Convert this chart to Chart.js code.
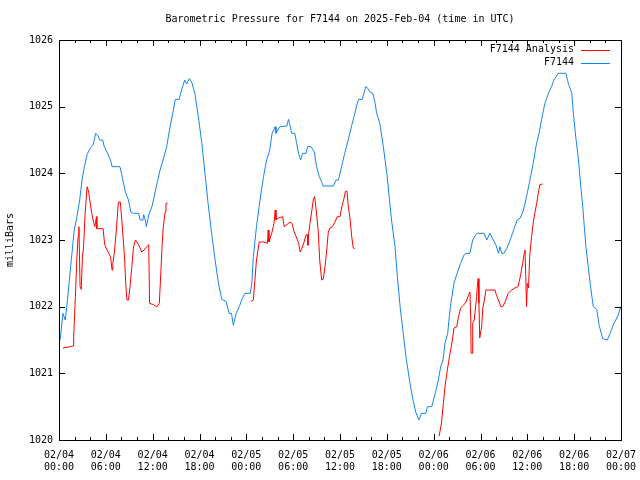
<!DOCTYPE html>
<html>
<head>
<meta charset="utf-8">
<script src="https://cdn.jsdelivr.net/npm/chart.js@4"></script>
<style>
  html, body { margin: 0; padding: 0; background: #fff; }
  #wrap { width: 640px; height: 480px; }
</style>
</head>
<body>
<div id="wrap"><canvas id="myChart"></canvas></div>
<script>
// hours since 02/04 00:00 UTC
var blueHours = [0.15,0.5,0.8,1.0,1.45,1.7,1.95,2.3,2.65,2.95,3.25,3.6,4.0,4.35,4.7,5.0,5.2,5.6,5.8,6.15,6.6,6.8,7.8,8.1,8.5,8.9,9.2,9.5,10.2,10.4,10.75,10.85,11.05,11.2,11.5,11.9,12.2,12.55,12.95,13.4,13.8,14.2,14.65,14.9,15.4,15.7,16.1,16.35,16.7,17.0,17.4,17.85,18.3,18.7,19.1,19.55,20.0,20.4,20.85,21.4,21.8,22.1,22.33,22.7,23.1,23.4,23.8,24.5,24.7,24.9,25.3,25.75,26.2,26.6,27.0,27.3,27.7,27.8,28.3,29.2,29.4,29.6,29.8,30.2,30.45,30.65,30.95,31.2,31.65,31.85,32.3,32.7,33.0,33.35,33.65,33.85,35.15,35.5,35.8,36.2,36.6,37.05,37.5,37.9,38.2,38.4,38.85,39.3,39.6,39.85,40.2,40.5,40.7,41.1,41.55,42.0,42.3,42.6,43.05,43.35,43.7,44.1,44.45,44.9,45.3,45.7,46.1,46.45,47.0,47.2,47.75,48.2,48.6,48.9,49.2,49.45,49.8,50.0,50.2,50.6,51.0,51.45,51.9,52.15,52.65,53.0,53.4,53.6,54.45,54.8,55.2,55.65,56.0,56.3,56.5,56.7,57.0,57.35,57.8,58.1,58.4,58.7,59.1,59.5,59.9,60.3,60.75,61.1,61.5,61.95,62.25,62.7,63.1,63.4,63.95,64.95,65.25,65.7,65.9,66.2,66.55,66.85,67.1,67.3,67.5,67.8,68.1,68.45,68.9,69.2,69.65,70.25,70.6,71.1,71.55,72.0];
var bluePressure = [1021.5,1021.9,1021.8,1022.0,1022.55,1022.85,1023.15,1023.35,1023.6,1023.9,1024.1,1024.28,1024.38,1024.42,1024.6,1024.56,1024.5,1024.5,1024.4,1024.32,1024.2,1024.1,1024.1,1023.95,1023.72,1023.6,1023.42,1023.4,1023.4,1023.3,1023.3,1023.38,1023.3,1023.2,1023.38,1023.5,1023.65,1023.85,1024.05,1024.23,1024.4,1024.68,1024.95,1025.11,1025.11,1025.25,1025.4,1025.34,1025.42,1025.37,1025.2,1024.85,1024.45,1024.0,1023.55,1023.1,1022.7,1022.37,1022.11,1022.08,1021.9,1021.9,1021.72,1021.9,1022.0,1022.1,1022.2,1022.2,1022.35,1022.75,1023.2,1023.6,1023.95,1024.2,1024.35,1024.6,1024.7,1024.6,1024.7,1024.71,1024.81,1024.72,1024.6,1024.6,1024.45,1024.32,1024.2,1024.3,1024.3,1024.4,1024.4,1024.32,1024.1,1023.95,1023.87,1023.81,1023.81,1023.9,1023.9,1024.1,1024.3,1024.5,1024.72,1024.9,1025.05,1025.11,1025.11,1025.3,1025.27,1025.22,1025.2,1025.05,1024.9,1024.75,1024.4,1024.0,1023.65,1023.3,1022.9,1022.45,1022.0,1021.6,1021.25,1020.9,1020.63,1020.42,1020.3,1020.4,1020.4,1020.5,1020.5,1020.7,1020.9,1021.1,1021.2,1021.45,1021.6,1021.85,1022.05,1022.35,1022.5,1022.65,1022.78,1022.8,1022.8,1023.0,1023.08,1023.1,1023.1,1023.0,1023.1,1023.0,1022.92,1022.8,1022.9,1022.8,1022.8,1022.87,1023.0,1023.1,1023.2,1023.3,1023.33,1023.45,1023.65,1023.88,1024.15,1024.4,1024.6,1024.88,1025.05,1025.2,1025.3,1025.4,1025.5,1025.5,1025.35,1025.2,1024.9,1024.55,1024.2,1023.8,1023.5,1023.2,1022.9,1022.6,1022.3,1022.0,1021.96,1021.72,1021.52,1021.5,1021.6,1021.75,1021.85,1022.0];

// analysis has gaps (null breaks the line)
var redHours = [0.5,1.45,1.8,1.88,2.1,2.3,2.45,2.55,2.7,2.85,3.0,3.15,3.35,3.6,3.8,4.0,4.2,4.45,4.6,4.8,4.85,5.65,5.85,6.15,6.6,6.8,6.9,7.1,7.35,7.6,7.85,8.05,8.4,8.55,8.7,8.9,9.1,9.35,9.55,9.8,10.2,10.6,10.9,11.25,11.5,11.6,12.1,12.55,12.85,13.0,13.2,13.35,13.6,13.7,13.9,
  19.0,
  24.6,24.9,25.1,25.3,25.65,26.2,26.7,26.8,26.9,27.25,27.55,27.7,27.8,28.1,28.65,28.85,29.2,29.6,29.85,30.1,30.45,30.7,30.9,31.1,31.4,31.65,31.8,31.9,31.95,32.15,32.4,32.6,32.75,32.9,33.2,33.4,33.65,33.85,34.08,34.3,34.5,34.7,35.05,35.35,35.65,36.0,36.2,36.5,36.7,36.9,37.05,37.3,37.5,37.7,37.9,
  43.0,
  48.7,49.0,49.2,49.45,49.75,50.1,50.4,50.6,50.95,51.15,51.45,51.8,52.15,52.45,52.65,52.75,52.8,52.95,53.0,53.2,53.5,53.6,53.7,53.8,53.9,54.15,54.3,54.5,54.7,55.85,56.05,56.3,56.6,56.85,57.15,57.55,58.0,58.4,58.8,59.1,59.4,59.6,59.7,59.8,59.9,60.0,60.15,60.3,60.5,60.75,60.95,61.2,61.4,61.6,61.95];
var redPressure = [1021.38,1021.4,1021.41,1021.55,1022.15,1022.75,1023.05,1023.2,1022.3,1022.26,1022.75,1022.9,1023.4,1023.8,1023.72,1023.55,1023.4,1023.25,1023.2,1023.35,1023.17,1023.17,1022.93,1022.85,1022.75,1022.55,1022.65,1022.82,1023.15,1023.57,1023.57,1023.3,1022.73,1022.35,1022.1,1022.1,1022.3,1022.62,1022.9,1023.0,1022.93,1022.82,1022.85,1022.9,1022.93,1022.05,1022.03,1022.0,1022.05,1022.4,1022.9,1023.18,1023.42,1023.55,1023.55,
  null,
  1022.08,1022.1,1022.4,1022.7,1022.97,1022.97,1022.95,1023.15,1022.97,1023.1,1023.25,1023.45,1023.3,1023.33,1023.35,1023.2,1023.23,1023.27,1023.25,1023.13,1023.03,1022.95,1022.82,1022.87,1022.97,1023.08,1023.08,1022.92,1023.05,1023.25,1023.45,1023.62,1023.65,1023.5,1023.15,1022.7,1022.4,1022.41,1022.6,1022.85,1023.12,1023.18,1023.2,1023.27,1023.35,1023.35,1023.48,1023.62,1023.73,1023.73,1023.52,1023.3,1023.05,1022.88,1022.87,
  null,
  1020.06,1020.25,1020.5,1020.8,1021.05,1021.3,1021.5,1021.68,1021.7,1021.83,1021.98,1022.02,1022.07,1022.17,1022.22,1021.8,1021.3,1021.3,1021.75,1021.8,1022.15,1022.32,1022.42,1022.05,1021.53,1021.7,1021.98,1022.1,1022.25,1022.25,1022.17,1022.1,1022.0,1022.0,1022.07,1022.2,1022.25,1022.28,1022.3,1022.45,1022.65,1022.8,1022.85,1022.45,1022.0,1022.35,1022.28,1022.75,1023.0,1023.25,1023.4,1023.55,1023.7,1023.83,1023.84];

var seriesNames = ["F7144 Analysis", "F7144"];
var chartTitle = "Barometric Pressure for F7144 on 2025-Feb-04 (time in UTC)";

var FONT = "'DejaVu Sans Mono', monospace";

function pts(xs, ys) {
    return xs.map(function (x, i) { return { x: x, y: ys[i] }; });
}

function pad2(n) { return (n < 10 ? "0" : "") + n; }

// frame, inward tics on all four sides, title and legend like gnuplot
var gnuplotLook = {
    id: "gnuplotLook",
    afterDraw: function (chart) {
        var c = chart.ctx, a = chart.chartArea;
        var xs = chart.scales.x, ys = chart.scales.y;
        c.save();
        c.strokeStyle = "#000";
        c.lineWidth = 1;
        c.strokeRect(Math.round(a.left) + 0.5, Math.round(a.top) + 0.5,
                     Math.round(a.right - a.left), Math.round(a.bottom - a.top));
        c.beginPath();
        xs.ticks.forEach(function (t) {
            var px = Math.round(xs.getPixelForValue(t.value)) + 0.5;
            var len = (t.value % 6 === 0) ? 6 : 3;
            c.moveTo(px, a.bottom); c.lineTo(px, a.bottom - len);
            c.moveTo(px, a.top); c.lineTo(px, a.top + len);
        });
        ys.ticks.forEach(function (t) {
            var py = Math.round(ys.getPixelForValue(t.value)) + 0.5;
            c.moveTo(a.left, py); c.lineTo(a.left + 6, py);
            c.moveTo(a.right, py); c.lineTo(a.right - 6, py);
        });
        c.stroke();

        c.fillStyle = "#000";
        c.font = "10px " + FONT;
        c.textAlign = "center";
        c.textBaseline = "middle";
        c.fillText(chartTitle, (a.left + a.right) / 2, 19);

        c.textAlign = "right";
        chart.data.datasets.forEach(function (ds, i) {
            var y = 49.5 + i * 13;
            c.fillStyle = "#000";
            c.fillText(ds.label, 574, y);
            c.strokeStyle = ds.borderColor;
            c.beginPath();
            c.moveTo(581, Math.round(y) + 0.5);
            c.lineTo(610, Math.round(y) + 0.5);
            c.stroke();
        });
        c.restore();
    }
};

var ctx = document.getElementById("myChart");
var myChart = new Chart(ctx, {
    type: "line",
    data: {
        datasets: [
            {
                label: seriesNames[0],
                data: pts(redHours, redPressure),
                borderColor: "#ff0000",
                borderWidth: 1,
                pointRadius: 0,
                tension: 0,
                spanGaps: false
            },
            {
                label: seriesNames[1],
                data: pts(blueHours, bluePressure),
                borderColor: "#1584f0",
                borderWidth: 1,
                pointRadius: 0,
                tension: 0
            }
        ]
    },
    options: {
        responsive: true,
        maintainAspectRatio: false,
        animation: false,
        events: [],
        layout: { padding: { left: 0, right: 19, top: 40, bottom: 0 } },
        plugins: {
            legend: { display: false },
            title: { display: false },
            tooltip: { enabled: false }
        },
        scales: {
            x: {
                type: "linear",
                min: 0,
                max: 72,
                grid: { display: false, drawTicks: false },
                border: { display: false },
                ticks: {
                    stepSize: 2,
                    autoSkip: false,
                    maxRotation: 0,
                    padding: 9,
                    color: "#000",
                    font: { family: FONT, size: 10 },
                    callback: function (v) {
                        if (v % 6 !== 0) return "";
                        var day = 4 + Math.floor(v / 24);
                        return ["02/" + pad2(day), pad2(v % 24) + ":00"];
                    }
                },
                afterFit: function (s) {
                    s.height = 40;
                    s.paddingLeft = 0;
                    s.paddingRight = 0;
                }
            },
            y: {
                min: 1020,
                max: 1026,
                grid: { display: false, drawTicks: false },
                border: { display: false },
                ticks: {
                    stepSize: 1,
                    padding: 6,
                    color: "#000",
                    font: { family: FONT, size: 10 },
                    callback: function (v) { return String(v); }
                },
                title: {
                    display: true,
                    text: "milliBars",
                    color: "#000",
                    font: { family: FONT, size: 10 },
                    padding: { top: 4, bottom: 0 }
                },
                afterFit: function (s) { s.width = 59; }
            }
        }
    },
    plugins: [gnuplotLook]
});
</script>
</body>
</html>
